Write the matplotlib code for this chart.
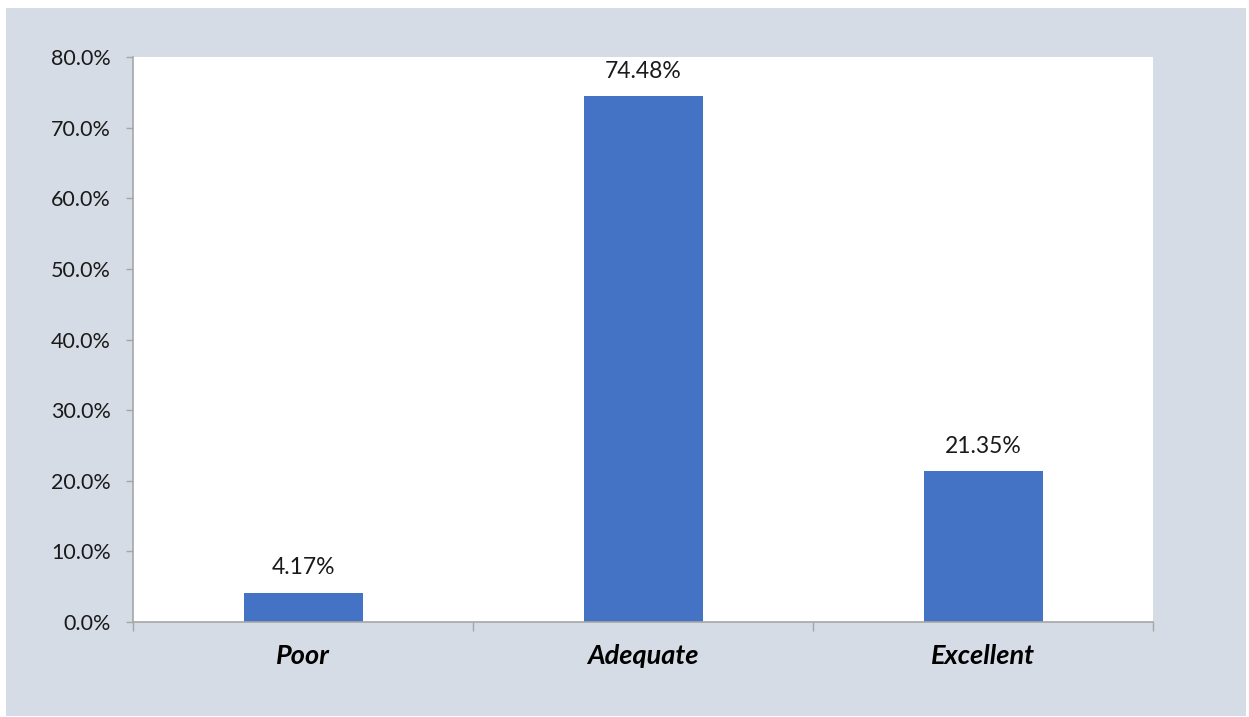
import matplotlib.pyplot as plt
from matplotlib.patches import Rectangle
from matplotlib.ticker import FuncFormatter

# data
categories = ['Poor', 'Adequate', 'Excellent']
shares = [4.17, 74.48, 21.35]
y_ticks = [0, 10, 20, 30, 40, 50, 60, 70, 80]

plt.rcParams['font.family'] = ['Lato', 'DejaVu Sans']

W, H = 1249, 717
fig = plt.figure(figsize=(W / 100, H / 100), dpi=100)
fig.patch.set_facecolor('white')
# light blue-grey chart area behind the axes
bg = Rectangle((6 / W, 1 - 716 / H), 1240 / W, 708 / H,
               transform=fig.transFigure, facecolor='#D6DCE5',
               edgecolor='none', zorder=-5)
fig.add_artist(bg)

ax = fig.add_axes([133 / W, 1 - 622 / H, 1020 / W, 565 / H])
ax.set_zorder(1)
ax.set_facecolor('white')

x = range(len(categories))
ax.bar(x, shares, width=0.35, color='#4472C4', zorder=2)
for xi, v in zip(x, shares):
    ax.annotate(f'{v:.2f}%', (xi, v), xytext=(0, 13), textcoords='offset points',
                ha='center', va='baseline', fontsize=16.5, color='#1a1a1a')

ax.set_xlim(-0.5, 2.5)
ax.set_ylim(0, 80)
ax.set_yticks(y_ticks)
ax.yaxis.set_major_formatter(FuncFormatter(lambda v, p: f'{v:.1f}%'))

# boundary ticks between categories, labels in the middle
ax.set_xticks([-0.5, 0.5, 1.5, 2.5])
ax.set_xticklabels([])
ax.set_xticks(list(x), minor=True)
ax.set_xticklabels(categories, minor=True, fontsize=19.5, fontweight='bold',
                   fontstyle='italic')
ax.tick_params(axis='x', which='major', length=6.5, width=1, color='#A6A6A6')
ax.tick_params(axis='x', which='minor', length=0, pad=16)
ax.tick_params(axis='y', length=5, width=1, color='#A6A6A6', labelsize=15.5,
               pad=11, labelcolor='#1a1a1a')

for s in ['top', 'right']:
    ax.spines[s].set_visible(False)
for s in ['left', 'bottom']:
    ax.spines[s].set_color('#A6A6A6')
    ax.spines[s].set_linewidth(1.2)

fig.savefig('out.png', dpi=100)
